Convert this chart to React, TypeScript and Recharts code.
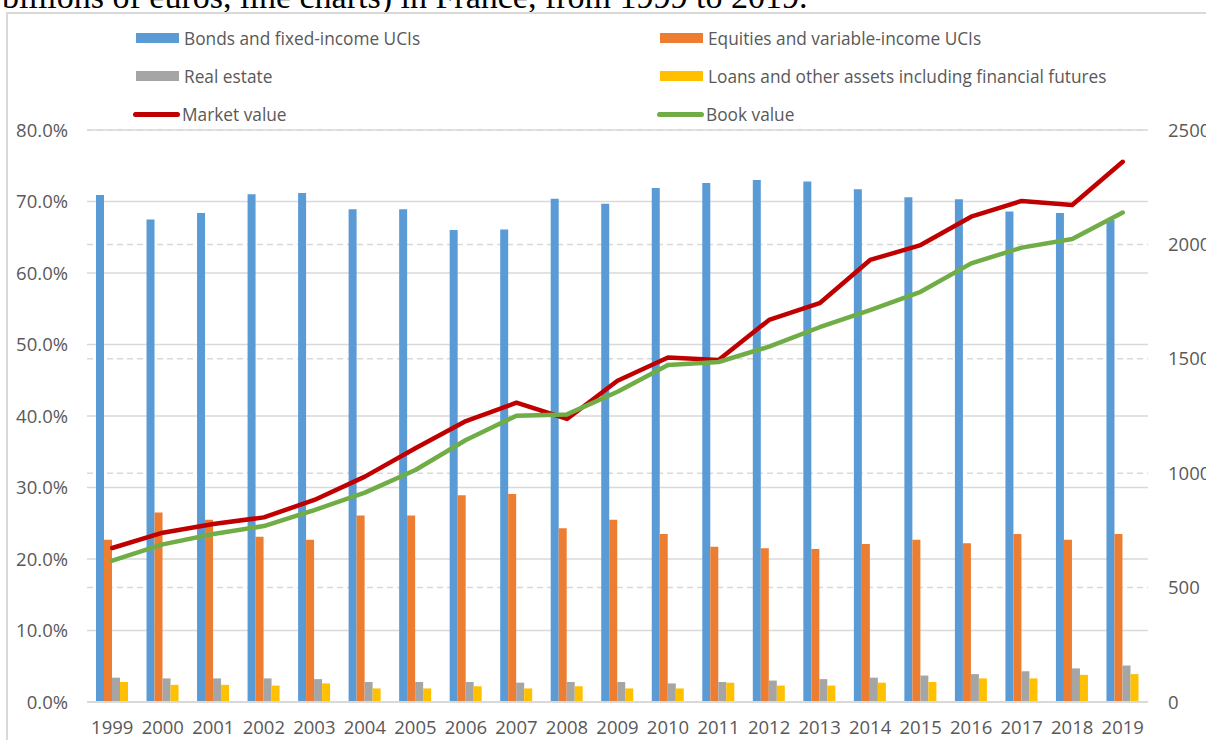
import React from "react";
import {
  ComposedChart,
  Bar,
  Line,
  XAxis,
  YAxis,
  CartesianGrid,
} from "recharts";

const years = [
  "1999", "2000", "2001", "2002", "2003", "2004", "2005", "2006", "2007", "2008", "2009",
  "2010", "2011", "2012", "2013", "2014", "2015", "2016", "2017", "2018", "2019",
];

// shares of the portfolio, in %
const bonds = [
  70.9, 67.5, 68.4, 71.0, 71.2, 68.9, 68.9, 66.0, 66.1, 70.4, 69.7,
  71.9, 72.6, 73.0, 72.8, 71.7, 70.6, 70.3, 68.6, 68.4, 67.4,
];
const equities = [
  22.7, 26.5, 25.5, 23.1, 22.7, 26.1, 26.1, 28.9, 29.1, 24.3, 25.5,
  23.5, 21.7, 21.5, 21.4, 22.1, 22.7, 22.2, 23.5, 22.7, 23.5,
];
const realEstate = [
  3.4, 3.3, 3.3, 3.3, 3.2, 2.8, 2.8, 2.8, 2.7, 2.8, 2.8,
  2.6, 2.8, 3.0, 3.2, 3.4, 3.7, 3.9, 4.3, 4.7, 5.1,
];
const loans = [
  2.8, 2.4, 2.4, 2.3, 2.6, 1.9, 1.9, 2.2, 1.9, 2.2, 1.9,
  1.9, 2.7, 2.3, 2.3, 2.7, 2.8, 3.3, 3.3, 3.8, 3.9,
];

// billions of euros
const marketValue = [
  673, 740, 778, 807, 883, 985, 1109, 1228, 1308, 1237, 1404,
  1506, 1495, 1670, 1743, 1932, 1997, 2121, 2190, 2172, 2361,
];
const bookValue = [
  618, 689, 734, 769, 839, 915, 1014, 1145, 1251, 1257, 1356,
  1473, 1486, 1553, 1638, 1713, 1793, 1917, 1986, 2024, 2139,
];

const leftTicks = [0, 10, 20, 30, 40, 50, 60, 70, 80];
const rightTicks = [0, 500, 1000, 1500, 2000, 2500];

const legendItems = [
  { name: "Bonds and fixed-income UCIs", color: "#5B9BD5", type: "bar" },
  { name: "Equities and variable-income UCIs", color: "#ED7D31", type: "bar" },
  { name: "Real estate", color: "#A5A5A5", type: "bar" },
  { name: "Loans and other assets including financial futures", color: "#FFC000", type: "bar" },
  { name: "Market value", color: "#C00000", type: "line" },
  { name: "Book value", color: "#70AD47", type: "line" },
];

const data = years.map((year, i) => ({
  year,
  bonds: bonds[i],
  equities: equities[i],
  realEstate: realEstate[i],
  loans: loans[i],
  market: marketValue[i],
  book: bookValue[i],
}));

const FONT = "'Open Sans', sans-serif";
const tickStyle = { fill: "#595959", fontSize: 18.5, fontFamily: FONT };

export default function App() {
  return (
    <div
      style={{
        position: "absolute",
        left: 0,
        top: 0,
        width: 1206,
        height: 740,
        overflow: "hidden",
        background: "#fff",
      }}
    >
      {/* caption of the figure, cut off by the crop as in the source */}
      <svg width={1206} height={14} style={{ position: "absolute", left: 0, top: 0 }}>
        <text x={2} y={8} fontFamily="'Liberation Serif', serif" fontSize={34} fill="#000">
          billions of euros, line charts) in France, from 1999 to 2019.
        </text>
      </svg>

      <div
        style={{
          position: "absolute",
          left: 6,
          top: 12,
          width: 1260,
          height: 800,
          border: "2px solid #d9d9d9",
        }}
      />

      {legendItems.map((item, i) => {
        const col = i % 2;
        const row = Math.floor(i / 2);
        const left = col === 0 ? 136 : 660;
        const top = 38 + row * 38;
        return (
          <div
            key={item.name}
            style={{
              position: "absolute",
              left,
              top: top - 12,
              height: 24,
              display: "flex",
              alignItems: "center",
              fontFamily: FONT,
              fontSize: 17.3,
              color: "#595959",
              whiteSpace: "nowrap",
            }}
          >
            {item.type === "bar" ? (
              <span
                style={{
                  display: "inline-block",
                  width: 43,
                  height: 10,
                  background: item.color,
                  marginRight: 5,
                }}
              />
            ) : (
              <span
                style={{
                  display: "inline-block",
                  width: 47,
                  height: 5,
                  borderRadius: 3,
                  background: item.color,
                  marginLeft: -3,
                  marginRight: 2,
                }}
              />
            )}
            {item.name}
          </div>
        );
      })}

      <div style={{ position: "absolute", left: 0, top: 0 }}>
        <ComposedChart
          width={1206}
          height={740}
          data={data}
          margin={{ top: 130, right: 0, bottom: 0, left: 0 }}
          barGap={0}
          barCategoryGap={9}
        >
          <CartesianGrid yAxisId="left" vertical={false} stroke="#d9d9d9" strokeWidth={1.5} />
          <CartesianGrid
            yAxisId="right"
            vertical={false}
            stroke="#d9d9d9"
            strokeWidth={1.5}
            strokeDasharray="6 4"
          />
          <XAxis
            dataKey="year"
            height={38}
            tickLine={false}
            tickSize={0}
            tickMargin={19}
            axisLine={{ stroke: "#d9d9d9", strokeWidth: 2 }}
            tick={tickStyle}
            interval={0}
          />
          <YAxis
            yAxisId="left"
            width={87}
            domain={[0, 80]}
            ticks={leftTicks}
            tickFormatter={(v: number) => `${v.toFixed(1)}%`}
            axisLine={false}
            tickLine={false}
            tickSize={0}
            tickMargin={19}
            tick={tickStyle}
          />
          <YAxis
            yAxisId="right"
            orientation="right"
            width={58}
            domain={[0, 2500]}
            ticks={rightTicks}
            axisLine={false}
            tickLine={false}
            tickSize={0}
            tickMargin={20}
            tick={tickStyle}
          />
          <Bar yAxisId="left" dataKey="bonds" fill="#5B9BD5" barSize={8} isAnimationActive={false} />
          <Bar yAxisId="left" dataKey="equities" fill="#ED7D31" barSize={8} isAnimationActive={false} />
          <Bar yAxisId="left" dataKey="realEstate" fill="#A5A5A5" barSize={8} isAnimationActive={false} />
          <Bar yAxisId="left" dataKey="loans" fill="#FFC000" barSize={8} isAnimationActive={false} />
          <Line
            yAxisId="right"
            type="linear"
            dataKey="market"
            stroke="#C00000"
            strokeWidth={4.5}
            strokeLinecap="round"
            strokeLinejoin="round"
            dot={false}
            isAnimationActive={false}
          />
          <Line
            yAxisId="right"
            type="linear"
            dataKey="book"
            stroke="#70AD47"
            strokeWidth={4.5}
            strokeLinecap="round"
            strokeLinejoin="round"
            dot={false}
            isAnimationActive={false}
          />
        </ComposedChart>
      </div>
    </div>
  );
}
